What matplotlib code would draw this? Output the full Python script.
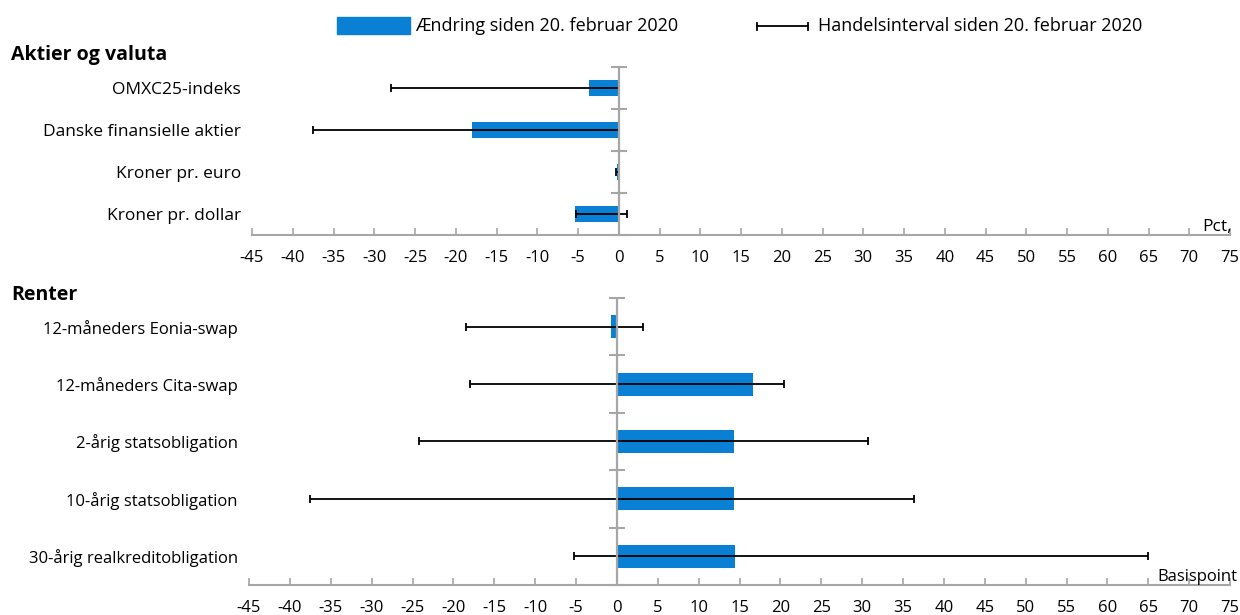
import matplotlib
matplotlib.use("Agg")
import matplotlib.pyplot as plt
from matplotlib.patches import Rectangle
from matplotlib.lines import Line2D
import numpy as np

plt.rcParams['font.family'] = ['Open Sans', 'DejaVu Sans']

# ---- data ----
top_title = "Aktier og valuta"
top_cats = ["OMXC25-indeks", "Danske finansielle aktier", "Kroner pr. euro", "Kroner pr. dollar"]
top_change = [-3.7, -18.0, -0.2, -5.4]
top_low = [-27.9, -37.5, -0.3, -5.3]
top_high = [0.0, 0.0, 0.0, 1.0]
top_unit = "Pct,"

bot_title = "Renter"
bot_cats = ["12-måneders Eonia-swap", "12-måneders Cita-swap", "2-årig statsobligation",
            "10-årig statsobligation", "30-årig realkreditobligation"]
bot_change = [-0.7, 16.6, 14.3, 14.3, 14.5]
bot_low = [-18.4, -18.0, -24.2, -37.5, -5.3]
bot_high = [3.2, 20.5, 30.7, 36.4, 65.0]
bot_unit = "Basispoint"

xticks = list(range(-45, 80, 5))
legend_bar = "Ændring siden 20. februar 2020"
legend_range = "Handelsinterval siden 20. februar 2020"

BLUE = "#0A80D5"
GRAY = "#A6A6A6"
FS_TOP = 12.5
FS_BOT = 12
FS_TICK = 12
FS_LEG = 13
FS_TITLE = 14

W, H = 1240, 615
fig = plt.figure(figsize=(W / 100, H / 100), dpi=100)


def px_axes(x0, y0, x1, y1):
    return fig.add_axes([x0 / W, 1 - y1 / H, (x1 - x0) / W, (y1 - y0) / H])


def panel(ax, cats, change, low, high, unit, unit_dx, fs):
    n = len(cats)
    pos = np.arange(n)
    ax.set_xlim(-45, 75)
    ax.set_ylim(n - 0.5, -0.5)
    ax.barh(pos, change, height=0.4, color=BLUE, zorder=2)
    low = np.array(low)
    high = np.array(high)
    ax.errorbar(low, pos, xerr=[np.zeros(n), high - low], fmt='none', ecolor='black',
                elinewidth=1.3, capsize=3, capthick=1.3, zorder=4)
    ax.axvline(0, color=GRAY, lw=1.6, zorder=5)
    bounds = np.arange(n + 1) - 0.5
    ax.plot(np.zeros(n + 1), bounds, ls='none', marker='_', ms=12, mew=1.5, color=GRAY,
            zorder=5, clip_on=False)
    for s in ['top', 'right', 'left']:
        ax.spines[s].set_visible(False)
    ax.spines['bottom'].set_color(GRAY)
    ax.spines['bottom'].set_linewidth(1.5)
    ax.set_xticks(xticks)
    ax.set_xticklabels([str(t) for t in xticks], fontsize=FS_TICK)
    ax.tick_params(axis='x', direction='in', length=5, width=1.2, color=GRAY, pad=11)
    ax.set_yticks(pos)
    ax.set_yticklabels(cats, fontsize=fs)
    ax.tick_params(axis='y', length=0, pad=8)
    ax.annotate(unit, xy=(1.0, 0.0), xycoords='axes fraction', xytext=(unit_dx, 0),
                textcoords='offset points', ha='right', va='bottom', fontsize=fs)
    ax.patch.set_alpha(0)


ax1 = px_axes(252, 67, 1230, 235)
panel(ax1, top_cats, top_change, top_low, top_high, top_unit, 1.5, FS_TOP)
ax2 = px_axes(249, 298, 1230, 585)
panel(ax2, bot_cats, bot_change, bot_low, bot_high, bot_unit, 5, FS_BOT)

fig.text(11 / W, 1 - 55 / H, top_title, fontsize=FS_TITLE, fontweight='bold', va='center', ha='left')
fig.text(11 / W, 1 - 295 / H, bot_title, fontsize=FS_TITLE, fontweight='bold', va='center', ha='left')

# legend
fig.patches.append(Rectangle((337 / W, 1 - 34 / H), 73 / W, 17 / H, transform=fig.transFigure,
                             color=BLUE, figure=fig))
fig.text(415 / W, 1 - 26 / H, legend_bar, fontsize=FS_LEG, va='center', ha='left')
ly = 1 - 26 / H
fig.lines.append(Line2D([757 / W, 808 / W], [ly, ly], transform=fig.transFigure, color='black', lw=1.3))
for xx in (757, 808):
    fig.lines.append(Line2D([xx / W, xx / W], [ly - 3.5 / H, ly + 3.5 / H], transform=fig.transFigure,
                            color='black', lw=1.3))
fig.text(818 / W, ly, legend_range, fontsize=FS_LEG, va='center', ha='left')

fig.savefig("out.png", dpi=100)
